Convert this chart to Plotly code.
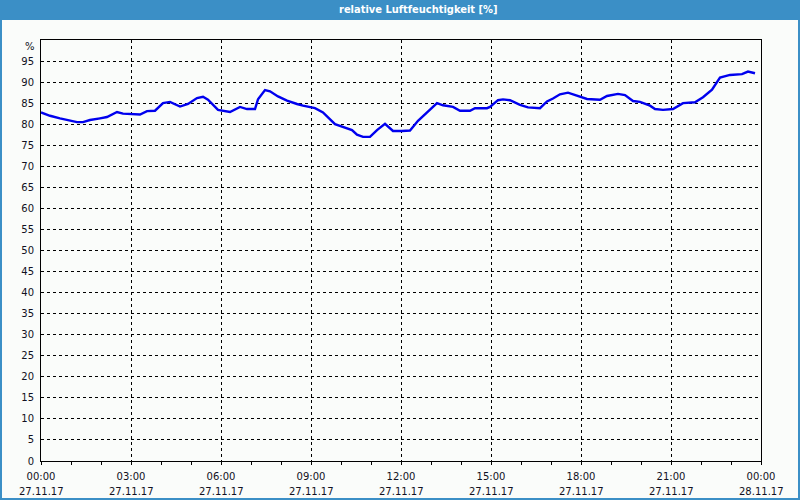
import plotly.graph_objects as go
from datetime import datetime, timedelta

# ---- data ----
times = ["00:00","00:18","00:38","00:58","01:12","01:24","01:38","01:58","02:12","02:32","02:44",
         "03:18","03:32","03:48","04:04","04:18","04:38","04:54","05:12","05:24","05:34","05:54",
         "06:18","06:38","06:52","07:08","07:14","07:28","07:38","07:54","08:12","08:32","08:44",
         "09:08","09:24","09:48","10:04","10:22","10:32","10:44","10:58","11:12","11:28","11:44",
         "12:02","12:18","12:34","12:52","13:12","13:24","13:44","13:58","14:18","14:28","14:52",
         "14:58","15:14","15:24","15:38","15:58","16:14","16:38","16:52","17:04","17:18","17:34",
         "17:52","18:12","18:38","18:52","19:14","19:28","19:44","19:58","20:18","20:28","20:44",
         "21:04","21:24","21:48","22:04","22:22","22:38","22:58","23:22","23:34","23:48"]
humidity = [82.8,82.0,81.4,80.9,80.5,80.5,81.0,81.4,81.7,82.9,82.5,
            82.3,83.1,83.2,85.0,85.3,84.2,84.8,86.2,86.5,85.8,83.4,
            82.9,84.1,83.6,83.6,85.9,88.1,87.8,86.6,85.6,84.8,84.4,
            83.8,82.8,80.0,79.4,78.6,77.5,77.0,77.0,78.6,80.1,78.4,
            78.4,78.5,80.8,82.8,85.0,84.5,84.1,83.2,83.2,83.8,83.8,
            84.1,85.7,85.9,85.7,84.6,84.0,83.8,85.4,86.1,87.1,87.5,
            86.8,86.0,85.8,86.7,87.2,86.9,85.5,85.3,84.4,83.6,83.4,
            83.6,85.0,85.2,86.4,88.2,91.1,91.7,91.9,92.5,92.1]
tick_times = ["00:00","03:00","06:00","09:00","12:00","15:00","18:00","21:00","00:00"]
tick_dates = ["27.11.17"]*8 + ["28.11.17"]
y_ticks = list(range(0, 100, 5))
title_text = "relative Luftfeuchtigkeit [%]"
y_unit = "%"

base = datetime(2017, 11, 27)
def to_dt(s, day=0):
    h, m = map(int, s.split(":"))
    return base + timedelta(days=day, hours=h, minutes=m)

xs = [to_dt(t) for t in times]
tick_vals = [base + timedelta(hours=3*i) for i in range(len(tick_times))]

BG = "#fafcfa"
BLUE = "#3b8fc6"
TXT = "#111122"

fig = go.Figure()
fig.add_trace(go.Scatter(x=xs, y=humidity, mode="lines",
                         line=dict(color="#0000ee", width=2.4), hoverinfo="skip"))

W, H = 800, 500
ml, mr, mt, mb = 41, 39, 40, 39
pw, ph = W - ml - mr, H - mt - mb
def px(xp):  # pixel x -> paper
    return (xp - ml) / pw
def py(yp):  # pixel y -> paper
    return (H - mb - yp) / ph

fig.update_layout(
    width=W, height=H, margin=dict(l=ml, r=mr, t=mt, b=mb),
    paper_bgcolor=BG, plot_bgcolor=BG, showlegend=False,
    font=dict(family="DejaVu Sans", size=10, color=TXT),
)
fig.update_xaxes(
    type="date", range=[tick_vals[0], tick_vals[-1]],
    tickmode="array", tickvals=tick_vals, ticktext=tick_times,
    showgrid=True, gridcolor="black", gridwidth=1, griddash="3px,3px",
    showline=True, linecolor="black", linewidth=1, mirror=True,
    ticks="outside", ticklen=3, tickcolor="black", ticklabelstandoff=3,
    minor=dict(dtick=3600000, ticks="outside", ticklen=3, tickcolor="black", showgrid=False),
    zeroline=False, fixedrange=True,
)
fig.update_yaxes(
    range=[0, 100], tickmode="array", tickvals=y_ticks,
    showgrid=True, gridcolor="black", gridwidth=1, griddash="3px,3px",
    showline=True, linecolor="black", linewidth=1, mirror=True,
    ticks="", ticklabelstandoff=4, zeroline=False, fixedrange=True,
)

# window frame and title bar
fig.add_shape(type="rect", xref="paper", yref="paper",
              x0=px(0), x1=px(800), y0=py(20), y1=py(0),
              fillcolor=BLUE, line=dict(width=0), layer="below")
fig.add_shape(type="rect", xref="paper", yref="paper",
              x0=px(1), x1=px(799), y0=py(499), y1=py(1),
              fillcolor="rgba(0,0,0,0)", line=dict(color=BLUE, width=2))
fig.add_annotation(xref="paper", yref="paper", x=px(418), y=py(10),
                   text="<b>" + title_text + "</b>", showarrow=False,
                   font=dict(family="DejaVu Sans Condensed, DejaVu Sans", size=11, color="white"),
                   xanchor="center", yanchor="middle")
fig.add_annotation(xref="paper", yref="paper", x=px(37), y=py(46),
                   text=y_unit, showarrow=False, xanchor="right", yanchor="middle",
                   font=dict(size=10, color=TXT))
for tv, d in zip(tick_vals, tick_dates):
    fig.add_annotation(xref="x", yref="paper", x=tv, y=py(491), text=d,
                       showarrow=False, xanchor="center", yanchor="middle",
                       font=dict(size=10, color=TXT))

fig.write_html("out.html")
